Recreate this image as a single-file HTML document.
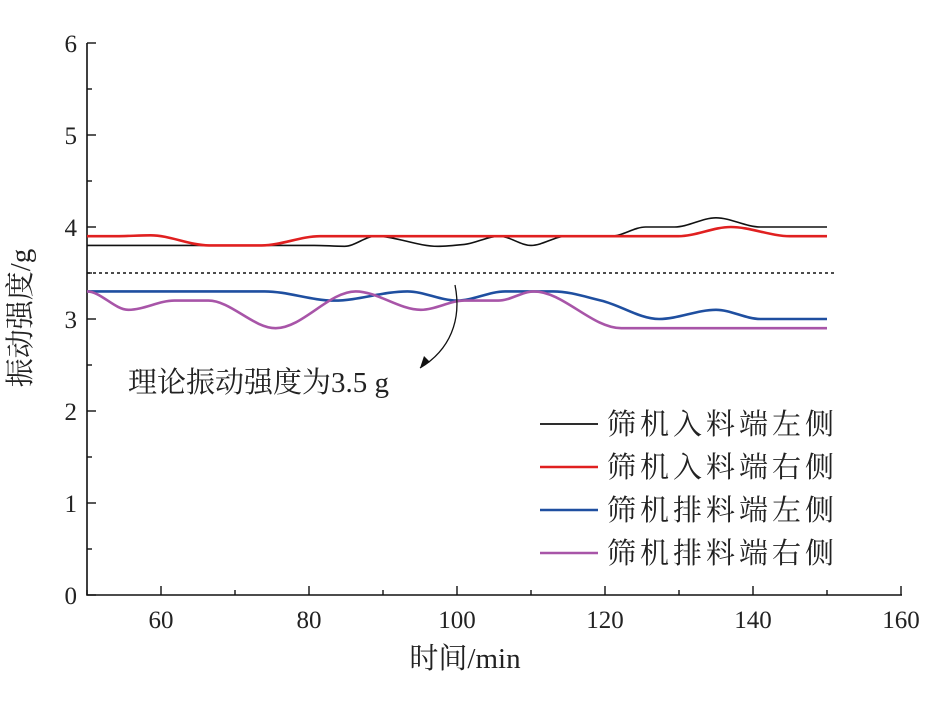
<!DOCTYPE html>
<html><head><meta charset="utf-8"><style>
body{margin:0;background:#fff}
text{font-family:"Liberation Serif","Noto Serif CJK SC",serif;fill:#222}
</style></head><body>
<svg width="930" height="702" viewBox="0 0 930 702">
<g id="axes"></g><g id="series"></g>
<line x1="87" x2="835" y1="273" y2="273" stroke="#111" stroke-width="1.6" stroke-dasharray="3,3"/>
<path d="M455,285 C462,320 450,350 420,368" fill="none" stroke="#111" stroke-width="1.3"/>
<path d="M420,368 L424,356 L430,362 Z" fill="#111"/>
<text x="128" y="392" font-size="29">理论振动强度为3.5 g</text>
<g id="legend"></g>
<text x="465" y="668" font-size="29" text-anchor="middle">时间/min</text>
<text transform="translate(30,318) rotate(-90)" font-size="29" text-anchor="middle">振动强度/g</text>
</svg>
<script>
const names=["筛机入料端左侧","筛机入料端右侧","筛机排料端左侧","筛机排料端右侧"];
const colors=["#111","#e02020","#1f4fa0","#a855a8"];
const blackT=[50,80.7,84.8,89,97.4,101,105.7,110,114.8,120.8,125.5,129.4,135,141,150];
const blackV=[3.8,3.8,3.79,3.9,3.79,3.81,3.9,3.8,3.9,3.9,4.0,4.0,4.1,4.0,4.0];
const redT=[50,54,58.6,66.5,73.6,81.5,129.9,137,145,150];
const redV=[3.9,3.9,3.91,3.8,3.8,3.9,3.9,4.0,3.9,3.9];
const blueT=[50,74,83.4,93.3,100,106.5,113,119.5,127.3,135,141,150];
const blueV=[3.3,3.3,3.2,3.3,3.2,3.3,3.3,3.2,3.0,3.1,3.0,3.0];
const purpT=[50,55.6,61.8,66.4,75.5,86.3,95.1,101,105.6,110.4,122.2,125,150];
const purpV=[3.3,3.1,3.2,3.2,2.9,3.3,3.1,3.2,3.2,3.3,2.9,2.9,2.9];
const xTicks=[60,80,100,120,140,160];
const yTicks=[0,1,2,3,4,5,6];
const X=t=>87+(t-50)*7.4, Y=v=>595-v*92;
const NS="http://www.w3.org/2000/svg";
function mk(tag,at,parent){const e=document.createElementNS(NS,tag);for(const k in at)e.setAttribute(k,at[k]);parent.appendChild(e);return e;}
const ax=document.getElementById("axes");
let a=mk("path",{d:`M87,43 V595 H902`,fill:"none",stroke:"#111","stroke-width":1.6},ax);


for(let t=50;t<=160;t+=10){const big=t%20==0;const l=mk("line",{x1:X(t),x2:X(t),y1:595,y2:595-(big?9:5),stroke:"#111","stroke-width":1.4},ax);

}
xTicks.forEach(t=>{const e=mk("text",{x:X(t),y:628,"font-size":25,"text-anchor":"middle"},ax);e.textContent=t;

});
for(let v=0;v<=6;v+=0.5){const big=v%1==0;const l=mk("line",{x1:87,x2:87+(big?9:5),y1:Y(v),y2:Y(v),stroke:"#111","stroke-width":1.4},ax);

}
yTicks.forEach(v=>{const e=mk("text",{x:77,y:Y(v)+9,"font-size":25,"text-anchor":"end"},ax);e.textContent=v;

});
function spline(T,V){
const x=T.map(X),y=V.map(Y),n=x.length;
const d=[],m=[];
for(let i=0;i<n-1;i++)d.push((y[i+1]-y[i])/(x[i+1]-x[i]));
for(let i=0;i<n;i++){
 if(i==0)m.push(0);else if(i==n-1)m.push(0);
 else if(d[i-1]*d[i]<=0)m.push(0);
 else{const h0=x[i]-x[i-1],h1=x[i+1]-x[i];const w1=2*h1+h0,w2=h1+2*h0;m.push((w1+w2)/(w1/d[i-1]+w2/d[i]));}
}
let s=`M${x[0]},${y[0]}`;
for(let i=0;i<n-1;i++){const h=(x[i+1]-x[i])/3;
s+=` C${x[i]+h},${y[i]+m[i]*h} ${x[i+1]-h},${y[i+1]-m[i+1]*h} ${x[i+1]},${y[i+1]}`;}
return s;}
const sr=document.getElementById("series");
const sets=[[blackT,blackV,1.6],[redT,redV,2.6],[blueT,blueV,2.6],[purpT,purpV,2.6]];
const snames=["series-inlet-left","series-inlet-right","series-outlet-left","series-outlet-right"];
sets.forEach((s,i)=>{const p=mk("path",{d:spline(s[0],s[1]),fill:"none",stroke:colors[i],"stroke-width":s[2]},sr);

});
const lg=document.getElementById("legend");
names.forEach((n,i)=>{const y=424+i*43;
const l=mk("line",{x1:540,x2:598,y1:y,y2:y,stroke:colors[i],"stroke-width":i?2.6:1.8},lg);


const t=mk("text",{x:607,y:y+10,"font-size":29,"letter-spacing":4},lg);t.textContent=n;

});
</script>
</body></html>
